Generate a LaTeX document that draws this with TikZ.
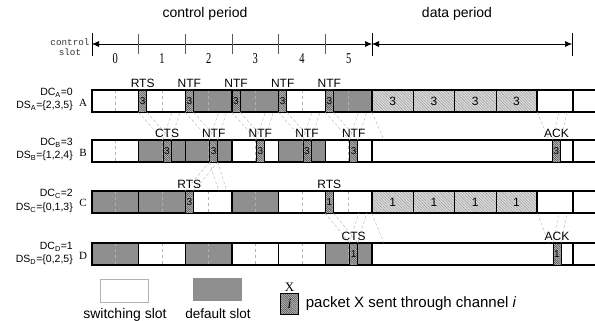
\documentclass[tikz,border=0pt]{standalone}
\usepackage{fontspec}
\setmainfont{Liberation Sans}
\newfontfamily\serifnum{Liberation Serif}
\newfontfamily\monolbl{Liberation Mono}
\usepackage{graphicx}
\usetikzlibrary{patterns.meta}
\usetikzlibrary{positioning}
\usetikzlibrary{arrows.meta}

\definecolor{dslot}{gray}{0.56}
\definecolor{pktfill}{gray}{0.74}
\definecolor{datfill}{gray}{0.86}

\begin{document}
\begin{tikzpicture}[
    x=1pt, y=-1pt,
    % Slot and packet styles
    rowline/.style={line width=1.3pt},
    midline/.style={gray!60, dashed, line width=0.4pt},
    pkt/.style={draw=black, line width=0.4pt, preaction={fill=pktfill},
        pattern={Lines[angle=-45, distance=1.5pt, line width=0.45pt]}, pattern color=black!75,
        minimum width=8pt, minimum height=22pt, inner sep=0pt, font=\fontsize{10}{10}\selectfont},
    datblk/.style={draw=black, line width=0.5pt, preaction={fill=datfill},
        pattern={Lines[angle=-45, distance=2pt, line width=0.4pt]}, pattern color=gray!85,
        minimum width=41.25pt, minimum height=22pt, inner sep=0pt, font=\fontsize{12}{12}\selectfont},
    beam/.style={gray!65, densely dashed, line width=0.35pt},
    % Text styles
    msg/.style={font=\fontsize{12}{12}\selectfont, inner sep=1pt},
    rowlbl/.style={anchor=east, font=\fontsize{10.5}{10.5}\selectfont, inner sep=0pt},
    rowname/.style={font=\serifnum\fontsize{11}{11}\selectfont, inner sep=0pt},
    num/.style={font=\serifnum\fontsize{15}{15}\selectfont, inner sep=0pt},
    % Time axis
    tick/.style={gray!70!black, line width=0.5pt},
    bigtick/.style={black, line width=0.8pt},
    period/.style={{Latex[length=7pt,width=6pt]}-{Latex[length=7pt,width=6pt]}, line width=0.5pt}
]

\useasboundingbox (0,0) rectangle (595,321);

% Slot origin, slot width, row height
\def\xo{92}
\def\sw{46.67}
\def\rh{22}

% Time axis
\coordinate (t0) at (\xo,44);
\coordinate (t6) at (372,44);
\coordinate (t7) at (572,44);
\draw[period] (t0) -- (t6);
\draw[period] (t6) -- (t7);
\foreach \k in {1,...,5}
    \draw[tick] (\xo+\k*\sw,34) -- (\xo+\k*\sw,54);
\foreach \x in {92,372,572}
    \draw[bigtick] (\x,33) -- (\x,56);
\foreach \k in {0,...,5}
    \node[num] (n\k) at (\xo+\k*\sw+\sw/2,59) {\scalebox{0.7}[1]{\k}};

\node[font=\fontsize{14}{14}\selectfont] (cp) at (205,14) {control period};
\node[font=\fontsize{14}{14}\selectfont] (dp) at (457,14) {data period};
\node[font=\monolbl\fontsize{9.3}{10}\selectfont, align=center, inner sep=0pt, text=black!80] (cs) at (70,47) {control\\slot};

% Row A
\foreach \k/\c in {0/white,1/white,2/dslot,3/dslot,4/white,5/dslot}
    \draw[rowline, fill=\c] (\xo+\k*\sw,90) rectangle ++(\sw,\rh);
\foreach \k in {0,...,5}
    \draw[midline] (\xo+\k*\sw+\sw/2,90) -- ++(0,\rh);
\foreach \j in {1,...,4}
    \node[datblk] (dA\j) at (372+\j*41.25-20.625,101) {3};
\draw[rowline] (537,90) rectangle (573,112);
\draw[rowline] (\xo,90) -- (595,90) (\xo,112) -- (595,112);
\foreach \k in {1,...,5}
    \node[pkt] (pA\k) at (\xo+\k*\sw+4,101) {3};
\node[rowlbl] (dcA) at (73,93) {DC\textsubscript{A}=0};
\node[rowlbl] (dsA) at (73,106) {DS\textsubscript{A}=\{2,3,5\}};
\node[rowname] (nA) at (83,103) {A};

% Row B
\foreach \k/\c in {0/white,1/dslot,2/dslot,3/white,4/dslot,5/white}
    \draw[rowline, fill=\c] (\xo+\k*\sw,140) rectangle ++(\sw,\rh);
\foreach \k in {0,...,5}
    \draw[midline] (\xo+\k*\sw+\sw/2,140) -- ++(0,\rh);
\draw[rowline] (372,140) rectangle (573,162);
\draw[rowline] (\xo,140) -- (595,140) (\xo,162) -- (595,162);
\foreach \k in {1,...,5}
    \node[pkt] (pB\k) at (\xo+\k*\sw+\sw/2+5,151) {3};
\node[pkt] (pB6) at (556.5,151) {3};
\node[rowlbl] (dcB) at (73,143) {DC\textsubscript{B}=3};
\node[rowlbl] (dsB) at (73,156) {DS\textsubscript{B}=\{1,2,4\}};
\node[rowname] (nB) at (83,153) {B};

% Row C
\foreach \k/\c in {0/dslot,1/dslot,2/white,3/dslot,4/white,5/white}
    \draw[rowline, fill=\c] (\xo+\k*\sw,191) rectangle ++(\sw,\rh);
\foreach \k in {0,...,5}
    \draw[midline] (\xo+\k*\sw+\sw/2,191) -- ++(0,\rh);
\foreach \j in {1,...,4}
    \node[datblk] (dC\j) at (372+\j*41.25-20.625,202) {1};
\draw[rowline] (537,191) rectangle (573,213);
\draw[rowline] (\xo,191) -- (595,191) (\xo,213) -- (595,213);
\node[pkt] (pC2) at (\xo+2*\sw+4,202) {3};
\node[pkt] (pC5) at (\xo+5*\sw+4,202) {1};
\node[rowlbl] (dcC) at (73,194) {DC\textsubscript{C}=2};
\node[rowlbl] (dsC) at (73,208) {DS\textsubscript{C}=\{0,1,3\}};
\node[rowname] (nC) at (83,203) {C};

% Row D
\foreach \k/\c in {0/dslot,1/white,2/dslot,3/white,4/white,5/dslot}
    \draw[rowline, fill=\c] (\xo+\k*\sw,243) rectangle ++(\sw,\rh);
\foreach \k in {0,...,5}
    \draw[midline] (\xo+\k*\sw+\sw/2,243) -- ++(0,\rh);
\draw[rowline] (372,243) rectangle (573,265);
\draw[rowline] (\xo,243) -- (595,243) (\xo,265) -- (595,265);
\node[pkt] (pD5) at (\xo+5*\sw+\sw/2+5,254) {1};
\node[pkt] (pD6) at (557,254) {1};
\node[rowlbl] (dcD) at (73,247) {DC\textsubscript{D}=1};
\node[rowlbl] (dsD) at (73,260) {DS\textsubscript{D}=\{0,2,5\}};
\node[rowname] (nD) at (83,256) {D};

% Beams between A and B
\foreach \k in {1,...,5} {
    \coordinate (rA\k) at (\xo+\k*\sw+\sw/2+10,112);
    \coordinate (sA\k) at (\xo+\k*\sw+\sw/2+18,112);
    \draw[beam] (pA\k.south west) -- (pB\k.north west) (pA\k.south east) -- (pB\k.north east);
    \draw[beam] (pB\k.north west) -- (rA\k) (pB\k.north east) -- (sA\k);
}
\coordinate (qB1) at (384,140);
\coordinate (qB2) at (549,140);
\coordinate (kA1) at (559,112);
\coordinate (kA2) at (567,112);
\draw[beam] (dA1.south west) -- (qB1) (dA4.south east) -- (qB2);
\draw[beam] (pB6.north west) -- (kA1) (pB6.north east) -- (kA2);

% Beams between C and B
\coordinate (rC2) at (\xo+2*\sw+\sw/2+10,191);
\coordinate (sC2) at (\xo+2*\sw+\sw/2+18,191);
\draw[beam] (pC2.north west) -- (pB2.south west) (pC2.north east) -- (pB2.south east);
\draw[beam] (pB2.south west) -- (rC2) (pB2.south east) -- (sC2);

% Beams between C and D
\coordinate (rC5) at (\xo+5*\sw+\sw/2+10,213);
\coordinate (sC5) at (\xo+5*\sw+\sw/2+18,213);
\draw[beam] (pC5.south west) -- (pD5.north west) (pC5.south east) -- (pD5.north east);
\draw[beam] (pD5.north west) -- (rC5) (pD5.north east) -- (sC5);
\coordinate (qD1) at (384,243);
\coordinate (qD2) at (549,243);
\coordinate (kC1) at (559,213);
\coordinate (kC2) at (567,213);
\draw[beam] (dC1.south west) -- (qD1) (dC4.south east) -- (qD2);
\draw[beam] (pD6.north west) -- (kC1) (pD6.north east) -- (kC2);

% Message labels
\node[msg, above=1pt of pA1] (mA1) {RTS};
\foreach \k in {2,...,5}
    \node[msg, above=1pt of pA\k] (mA\k) {NTF};
\node[msg, above=1pt of pB1] (mB1) {CTS};
\foreach \k in {2,...,5}
    \node[msg, above=1pt of pB\k] (mB\k) {NTF};
\node[msg, above=1pt of pB6] (mB6) {ACK};
\node[msg, above=1pt of pC2] (mC2) {RTS};
\node[msg, above=1pt of pC5] (mC5) {RTS};
\node[msg, above=1pt of pD5] (mD5) {CTS};
\node[msg, above=1pt of pD6] (mD6) {ACK};

% Legend
\node[draw=gray!60, line width=0.6pt, minimum width=48pt, minimum height=23pt, inner sep=0pt] (lgsw) at (124,290.5) {};
\node[fill=dslot, minimum width=49pt, minimum height=23pt, inner sep=0pt] (lgdf) at (217.5,289.5) {};
\node[anchor=base, font=\fontsize{14}{14}\selectfont, inner sep=0pt] (lgswt) at (125,318) {switching slot};
\node[anchor=base, font=\fontsize{13.5}{14}\selectfont, inner sep=0pt] (lgdft) at (218,318) {default slot};
\node[pkt, minimum width=18pt, minimum height=21pt, font=\serifnum\itshape\fontsize{14}{14}\selectfont] (lgpk) at (289.5,303.5) {i};
\node[above=0pt of lgpk, font=\serifnum\fontsize{13}{13}\selectfont, inner sep=1pt] (lgx) {X};
\node[right=7pt of lgpk, font=\fontsize{15}{15}\selectfont, inner sep=0pt] (lgtx) {packet X sent through channel \textit{i}};

\end{tikzpicture}
\end{document}
